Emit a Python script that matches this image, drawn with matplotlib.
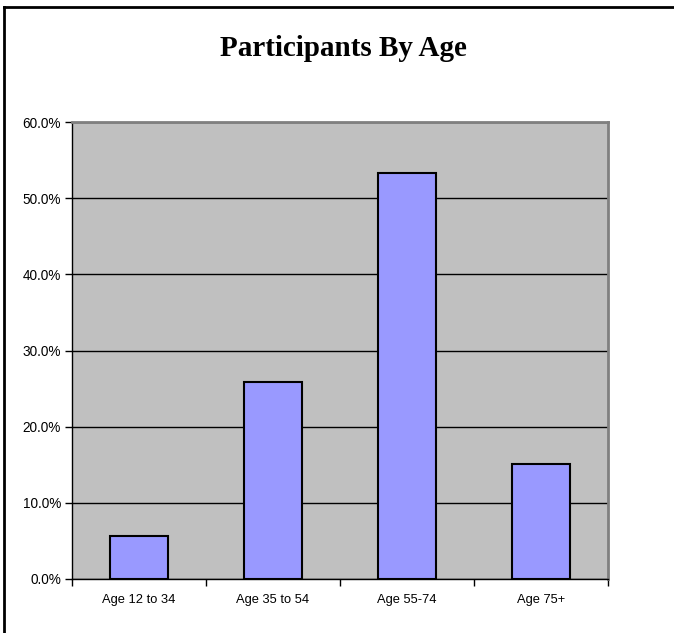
import matplotlib
matplotlib.use("Agg")
import matplotlib.pyplot as plt
from matplotlib.lines import Line2D
from matplotlib.ticker import FuncFormatter, FixedLocator

categories = ["Age 12 to 34", "Age 35 to 54", "Age 55-74", "Age 75+"]
percent = [5.6, 25.8, 53.3, 15.1]
yticks = [0, 10, 20, 30, 40, 50, 60]

W, H = 674, 633
fig = plt.figure(figsize=(W / 100, H / 100), dpi=100)
ax = fig.add_axes([72 / W, 1 - 579 / H, (608 - 72) / W, (579 - 122) / H])
ax.set_facecolor("#C0C0C0")

x = list(range(len(categories)))
ax.bar(x, percent, width=0.43, color="#9999FF", edgecolor="black", linewidth=1.5, zorder=3)

ax.set_xlim(-0.5, len(categories) - 0.5)
ax.set_ylim(0, 60)
ax.yaxis.set_major_locator(FixedLocator(yticks))
ax.yaxis.set_major_formatter(FuncFormatter(lambda v, p: f"{v:.1f}%"))
ax.yaxis.grid(True, color="black", linewidth=1)
ax.set_axisbelow(True)

ax.set_xticks(x)
ax.set_xticklabels(categories)
ax.xaxis.set_minor_locator(FixedLocator([i + 0.5 for i in range(-1, len(categories))]))
ax.tick_params(axis="x", which="major", length=0, pad=11)
ax.tick_params(axis="x", which="minor", length=5, width=1, direction="out")
ax.tick_params(axis="y", length=5, width=1, direction="out", pad=3)
for lab in ax.get_xticklabels():
    lab.set_fontfamily("Liberation Sans")
    lab.set_fontsize(9.3)
for lab in ax.get_yticklabels():
    lab.set_fontfamily("Liberation Sans")
    lab.set_fontsize(9.8)

for side in ["top", "right"]:
    ax.spines[side].set_color("#808080")
    ax.spines[side].set_linewidth(2)
for side in ["left", "bottom"]:
    ax.spines[side].set_color("black")
    ax.spines[side].set_linewidth(1)

fig.text(343 / W, 1 - 48 / H, "Participants By Age", ha="center", va="center",
         fontfamily="Liberation Serif", fontweight="bold", fontsize=21)

# chart frame (top and left edges visible)
fig.add_artist(Line2D([3.5 / W, 3.5 / W], [0, 1 - 6.5 / H], transform=fig.transFigure, color="black", linewidth=2))
fig.add_artist(Line2D([3.5 / W, 1], [1 - 6.5 / H, 1 - 6.5 / H], transform=fig.transFigure, color="black", linewidth=2))

fig.savefig("out.png", dpi=100)
